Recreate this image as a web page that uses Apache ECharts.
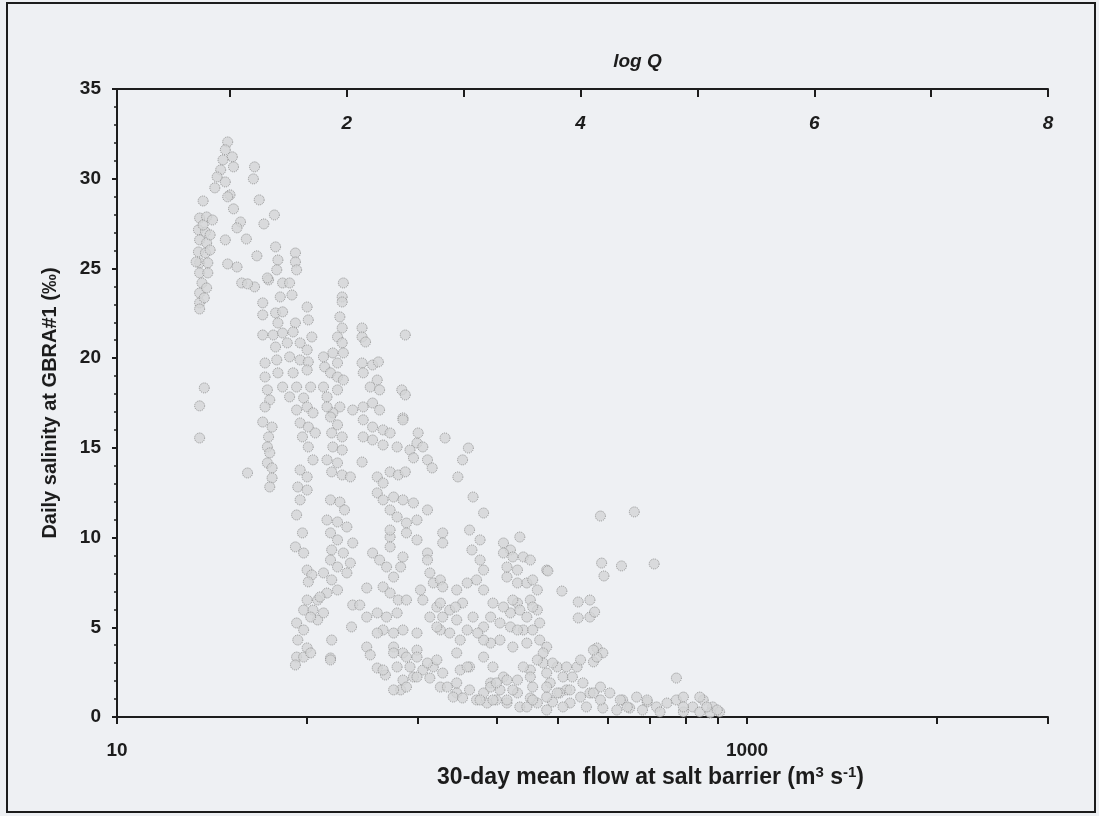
<!DOCTYPE html>
<html lang="en">
<head>
    <meta charset="UTF-8">
    <title>Daily salinity vs 30-day mean flow</title>
    <script src="https://cdn.jsdelivr.net/npm/echarts@6/dist/echarts.min.js"></script>
    <style>
        html, body { margin: 0; padding: 0; background: #eef0f3; }
        #main { width: 1099px; height: 816px; }
    </style>
</head>
<body>
<div id="main"></div>
<script>
    // bottom axis ticks (flow, m3/s) and which of them get a label
    const flowTicks = [10, 40, 90, 160, 250, 360, 490, 640, 810, 1000, 4000, 9000];
    const flowLabels = [10, 1000];
    // top axis ticks (log Q)
    const logQTicks = [1, 2, 3, 4, 5, 6, 7, 8];
    const logQLabels = [2, 4, 6, 8];
    const salinityTicks = [0, 5, 10, 15, 20, 25, 30, 35];

    // [log Q, daily salinity (‰)]
    const points = [
        // low flow column
        [0.77,28.76],[0.74,27.81],[0.80,27.87],[0.85,27.70],[0.73,27.15],[0.79,27.03],[0.74,26.59],[0.80,26.42],
        [0.73,25.92],[0.79,25.86],[0.74,25.31],[0.81,25.31],[0.74,24.75],[0.81,24.75],[0.76,24.19],[0.74,23.63],
        [0.74,23.08],[0.74,22.74],[0.78,18.34],[0.74,17.34],[0.74,15.55],[0.83,26.87],[0.77,27.42],[0.83,26.03],
        [0.71,25.36],[0.80,23.91],[0.78,23.36],
        // peak
        [0.98,32.05],[0.96,31.61],[1.02,31.22],[0.94,31.05],[1.03,30.66],[0.92,30.49],[0.89,30.10],[0.96,29.82],
        [0.87,29.49],[1.00,29.10],[0.98,28.99],[1.21,30.66],[1.20,29.99],[1.25,28.82],[1.03,28.32],[1.38,27.98],
        [1.29,27.48],[1.09,27.59],[1.06,27.26],[0.96,26.59],[1.14,26.64],[1.23,25.70],[0.98,25.25],[1.06,25.08],
        // 17-26
        [1.39,26.20],[1.41,25.47],[1.56,25.86],[1.56,25.36],[1.57,24.92],[1.40,24.92],[1.33,24.36],[1.21,23.97],
        [1.45,24.19],[1.51,24.19],[1.28,23.08],[1.43,23.41],[1.53,23.52],[1.28,22.41],[1.39,22.52],[1.45,22.58],
        [1.66,22.85],[1.41,21.96],[1.56,21.96],[1.67,22.13],[1.28,21.29],[1.37,21.29],[1.45,21.40],[1.54,21.46],
        [1.70,21.18],[1.39,20.62],[1.49,20.85],[1.60,20.85],[1.66,20.46],[1.30,19.73],[1.40,19.90],[1.51,20.07],
        [1.60,19.90],[1.67,19.79],[1.30,18.95],[1.41,19.18],[1.54,19.18],[1.66,19.34],[1.32,18.23],[1.45,18.39],
        [1.57,18.39],[1.69,18.39],[1.97,24.19],[1.96,23.41],[1.96,23.13],[1.94,22.30],[1.96,21.68],[1.92,21.18],
        [1.96,20.85],[1.88,20.29],[1.97,20.29],[1.92,19.73],[1.81,19.51],[1.86,19.18],[1.92,18.95],[1.97,18.78],
        [1.80,18.39],[1.92,18.23],[2.13,21.68],[2.13,21.18],[2.16,20.90],[2.50,21.29],[2.13,19.73],[2.22,19.62],
        [2.27,19.79],[2.14,19.18],[2.26,18.78],[2.20,18.39],[2.28,18.23],[2.47,18.23],[2.50,17.95],[1.10,24.19],
        [1.15,24.14],[1.32,24.47],[1.34,17.67],[1.51,17.84],[1.63,17.78],[1.80,20.07],[1.83,17.84],[2.05,17.11],
        [1.94,17.28],[1.88,16.95],[2.48,16.67],
        // 11-17
        [1.30,17.28],[1.28,16.44],[1.36,16.16],[1.33,15.61],[1.32,15.05],[1.34,14.72],[1.32,14.16],[1.36,13.88],
        [1.36,13.32],[1.34,12.82],[1.57,17.11],[1.66,17.28],[1.71,16.95],[1.60,16.39],[1.67,16.16],[1.73,15.83],
        [1.62,15.61],[1.67,15.05],[1.71,14.33],[1.60,13.77],[1.66,13.38],[1.58,12.82],[1.66,12.65],[1.60,12.10],
        [1.57,11.26],[1.83,17.28],[1.86,16.72],[1.92,16.28],[1.87,15.83],[1.96,15.61],[1.88,15.05],[1.96,14.88],
        [1.83,14.33],[1.92,14.16],[1.87,13.66],[1.96,13.49],[2.03,13.38],[2.13,14.21],[2.14,17.28],[2.22,17.50],
        [2.28,17.11],[2.14,16.56],[2.22,16.16],[2.31,16.00],[2.14,15.61],[2.22,15.44],[2.31,15.16],[2.37,15.83],
        [2.43,15.05],[2.48,16.56],[2.26,13.38],[2.31,13.04],[2.37,13.66],[2.44,13.49],[2.50,13.66],[2.26,12.49],
        [2.31,12.10],[2.40,12.26],[2.48,12.10],[2.57,11.93],[2.69,11.54],[2.37,11.54],[2.43,11.15],[2.51,10.81],
        [2.60,10.98],[2.54,14.88],[2.60,15.27],[2.65,15.05],[2.61,15.83],[2.69,14.33],[2.73,13.88],[2.57,14.44],
        [2.84,15.55],[1.15,13.60],
        // 2-12, log Q 1.5-2.9
        [1.86,12.10],[1.94,11.98],[1.98,11.54],[1.83,10.98],[1.92,10.87],[2.00,10.59],[2.05,9.70],[1.86,10.26],
        [1.92,9.87],[1.87,9.31],[1.97,9.14],[2.03,8.58],[1.86,8.75],[1.92,8.36],[2.00,8.03],[1.80,8.03],
        [1.87,7.64],[1.92,7.08],[1.83,6.91],[1.75,6.52],[1.62,10.26],[1.56,9.48],[1.63,9.14],[1.66,8.19],
        [1.70,7.92],[1.67,7.53],[1.66,6.52],[1.63,5.96],[1.71,5.96],[1.75,5.41],[1.57,5.24],[1.63,4.85],
        [1.69,5.57],[1.58,4.29],[1.66,3.85],[1.57,3.34],[1.56,2.90],[1.87,4.29],[1.86,3.29],[1.80,5.80],
        [1.77,6.69],[2.17,7.19],[2.04,5.02],[2.05,6.24],[2.11,6.24],[2.22,9.14],[2.28,8.75],[2.37,10.03],
        [2.37,9.48],[2.34,8.36],[2.40,7.80],[2.31,7.25],[2.37,6.91],[2.44,6.52],[2.26,5.80],[2.34,5.57],
        [2.43,5.80],[2.51,6.52],[2.48,8.92],[2.46,8.36],[2.31,4.85],[2.40,4.68],[2.48,4.85],[2.60,4.68],
        [2.40,3.90],[2.48,3.57],[2.60,3.73],[2.43,2.79],[2.54,2.79],[2.48,2.06],[2.46,1.51],[2.57,2.23],
        [2.65,2.62],[2.74,2.79],[2.82,2.45],[2.80,1.67],[2.37,10.42],[2.51,10.26],[2.60,9.87],[2.69,9.14],
        [2.69,8.75],[2.71,8.03],[2.63,7.08],[2.65,6.52],[2.74,7.47],[2.80,7.64],[2.82,7.25],[2.77,6.13],
        [2.82,5.57],[2.80,4.85],[2.82,10.26],[2.82,9.70],[2.17,5.57],[2.26,4.68],[2.17,3.90],[2.20,3.46],
        [2.26,2.73],[2.33,2.34],[1.63,3.34],[1.69,3.57],[1.86,3.18],
        // log Q 2.8-5.2
        [3.04,14.99],[2.99,14.33],[2.95,13.38],[3.08,12.26],[3.17,11.37],[3.05,10.42],[3.14,9.87],[3.07,9.31],
        [3.14,8.75],[3.17,8.19],[3.34,9.70],[3.40,9.31],[3.48,10.03],[3.51,8.92],[3.57,8.75],[3.46,8.19],
        [3.37,7.80],[3.46,7.47],[3.54,7.47],[3.59,7.64],[3.63,7.08],[3.71,8.19],[3.57,6.52],[3.46,6.35],
        [3.40,5.80],[3.54,5.57],[3.63,5.96],[3.65,5.24],[3.51,4.85],[3.40,5.02],[3.31,5.24],[3.23,5.57],
        [3.25,6.35],[3.17,7.08],[3.11,7.64],[3.03,7.47],[2.94,7.08],[2.99,6.35],[2.88,5.96],[2.94,5.41],
        [3.08,5.57],[3.17,5.02],[3.03,4.85],[2.88,4.68],[2.77,5.02],[2.71,5.57],[2.80,6.35],[4.17,11.20],
        [4.46,11.43],[4.18,8.58],[4.35,8.42],[4.63,8.53],[4.20,7.86],[3.34,9.14],[3.42,8.92],[3.37,8.36],
        [3.72,8.14],[3.42,6.52],[3.34,6.13],[3.48,5.96],[3.59,6.13],[3.46,4.85],[3.59,4.85],[3.65,4.29],
        [3.54,4.12],[3.42,3.90],[3.31,4.29],[3.23,4.12],[3.17,4.29],[3.12,4.68],[2.97,4.29],[2.93,6.13],
        [2.94,3.57],[3.05,2.79],[3.17,3.34],[3.25,2.79],[3.34,2.23],[3.46,2.06],[3.57,2.62],[3.68,3.01],
        [3.71,3.90],[3.68,3.57],[3.80,2.79],[3.85,2.23],[3.97,2.79],[4.11,3.07],[4.14,3.85],[4.19,3.57],
        [3.84,7.02],[3.98,6.41],[4.08,6.52],[3.98,5.52],[4.08,5.57],[4.12,5.85],[4.82,2.17],[3.23,1.90],
        [3.31,1.51],[3.46,1.34],[3.59,1.67],[3.74,1.90],[3.88,1.51],[4.02,1.90],[4.08,1.34],[4.17,1.67],
        [4.25,1.34],[4.36,0.95],[4.48,1.11],[4.57,0.84],[4.65,0.56],[4.74,0.78],[4.82,0.95],[4.88,1.11],
        [4.96,0.56],[5.05,0.95],[5.13,0.56],[5.19,0.28],[2.94,1.34],[3.05,1.51],[3.11,0.95],[3.20,0.78],
        [3.28,0.95],[3.37,0.78],[3.48,0.56],[3.63,0.78],[3.76,0.84],[3.91,0.78],[4.05,0.56],[4.19,0.50],
        [4.31,0.39],[4.42,0.50],[4.53,0.39],[4.68,0.28],[4.88,0.28],[5.02,0.28],[5.11,0.22],[3.82,1.34],
        [3.71,1.11],[3.57,1.06],[3.17,1.34],
        // near zero
        [2.51,1.67],[2.40,1.51],[2.60,2.23],[2.71,2.17],[2.86,1.67],[2.94,1.90],[2.97,2.62],[3.03,2.79],
        [2.91,1.11],[2.99,1.06],[3.14,0.95],[3.23,1.67],[3.28,1.90],[3.37,2.06],[3.42,1.51],[3.25,0.95],
        [3.37,0.95],[3.54,0.56],[3.59,0.95],[3.51,2.79],[3.63,3.18],[3.57,2.23],[3.71,2.45],[3.76,3.01],
        [3.88,2.79],[3.93,2.23],[3.71,1.67],[3.80,1.34],[3.91,1.51],[4.00,1.11],[3.85,0.56],[3.71,0.39],
        [4.11,1.34],[4.17,0.95],[4.34,0.95],[4.40,0.56],[4.57,0.95],[4.88,0.56],[5.02,1.11],[5.08,0.56],
        [5.17,0.39],[4.14,3.34],[4.11,3.73],[4.00,3.18],[2.40,3.57],[2.51,3.34],[2.60,3.34],[2.31,2.62],
        [2.69,3.01],[2.77,3.18]
    ];

    // the bottom flow scale as printed runs along the top log Q scale
    const flowToLogQ = q => (3.9 + 315 * Math.log10(q / 10)) / 116.86;
    const logQToFlow = v => 10 * Math.pow(10, (v * 116.86 - 3.9) / 315);

    const font = 'Liberation Sans, Arial, sans-serif';
    const ink = '#1c1c1c';
    const xMin = 0.033, xMax = 8;

    let myChart = echarts.init(document.getElementById('main'));
    let option = {
        backgroundColor: '#eef0f3',
        animation: false,
        graphic: [{
            type: 'rect',
            shape: { x: 7, y: 3, width: 1088, height: 809 },
            style: { fill: 'none', stroke: ink, lineWidth: 2 }
        }],
        grid: { left: 117, right: 51, top: 89, bottom: 99 },
        xAxis: [{
            type: 'value',
            position: 'bottom',
            min: xMin,
            max: xMax,
            name: '30-day mean flow at salt barrier (m{sup|3} s{sup|-1})',
            nameLocation: 'middle',
            nameGap: 47,
            nameTextStyle: {
                fontFamily: font, fontSize: 23, fontWeight: 'bold', color: ink,
                padding: [0, 0, 0, 136],
                rich: { sup: { fontFamily: font, fontSize: 15, fontWeight: 'bold', color: ink, verticalAlign: 'top', padding: [0, 0, 11, 0] } }
            },
            axisLine: { lineStyle: { color: ink, width: 2 } },
            axisTick: { show: true, inside: false, length: 7, lineStyle: { color: ink, width: 2 },
                customValues: flowTicks.map(flowToLogQ) },
            axisLabel: {
                customValues: flowLabels.map(flowToLogQ),
                formatter: v => String(Math.round(logQToFlow(v))),
                margin: 24,
                fontFamily: font, fontSize: 19, fontWeight: 'bold', color: ink
            },
            splitLine: { show: false }
        }, {
            type: 'value',
            position: 'top',
            min: xMin,
            max: xMax,
            name: 'log Q',
            nameLocation: 'middle',
            nameGap: 18,
            nameTextStyle: {
                fontFamily: font, fontSize: 19, fontWeight: 'bold', fontStyle: 'italic', color: ink,
                padding: [0, 0, 0, 110]
            },
            axisLine: { lineStyle: { color: ink, width: 2 } },
            axisTick: { show: true, inside: true, length: 8, lineStyle: { color: ink, width: 2 },
                customValues: logQTicks },
            axisLabel: {
                customValues: logQLabels,
                inside: true,
                margin: 25,
                fontFamily: font, fontSize: 19, fontWeight: 'bold', fontStyle: 'italic', color: ink
            },
            splitLine: { show: false }
        }],
        yAxis: {
            type: 'value',
            min: 0,
            max: 35,
            interval: 5,
            name: 'Daily salinity at GBRA#1 (‰)',
            nameLocation: 'middle',
            nameGap: 57,
            nameTextStyle: { fontFamily: font, fontSize: 20, fontWeight: 'bold', color: ink },
            axisLine: { show: true, lineStyle: { color: ink, width: 2 } },
            axisTick: { show: true, inside: false, length: 5, lineStyle: { color: ink, width: 2 } },
            minorTick: { show: true, splitNumber: 5, length: 3, lineStyle: { color: ink, width: 1.5 } },
            axisLabel: {
                customValues: salinityTicks,
                margin: 16,
                fontFamily: font, fontSize: 19, fontWeight: 'bold', color: ink
            },
            splitLine: { show: false }
        },
        series: [{
            type: 'scatter',
            xAxisIndex: 0,
            data: points,
            symbol: 'circle',
            symbolSize: 10,
            itemStyle: {
                color: '#d3d4d6',
                borderColor: '#7f7f7f',
                borderWidth: 1,
                borderType: 'dotted'
            }
        }]
    };
    myChart.setOption(option);
</script>
</body>
</html>
